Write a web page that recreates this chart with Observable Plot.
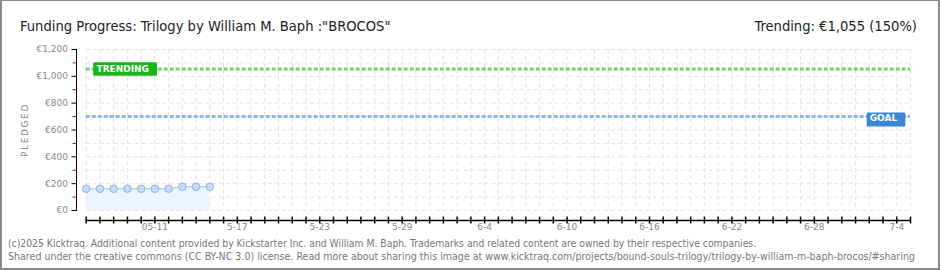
<!DOCTYPE html>
<html>
<head>
<meta charset="utf-8">
<script src="https://cdn.jsdelivr.net/npm/d3@7"></script>
<script src="https://cdn.jsdelivr.net/npm/@observablehq/plot@0.6"></script>
<style>
  body { margin: 0; background: #fff; }
  #wrap { position: relative; width: 940px; height: 270px; overflow: hidden; background: #fff; }
  #frameBorder { position: absolute; left: 0; top: 0; width: 940px; height: 270px; box-sizing: border-box;
    border-style: solid; border-color: #8a8a8a; border-width: 1px 2px 2px 2px; pointer-events: none; }
  .narrow { font-family: "Liberation Sans Narrow", "DejaVu Sans Condensed", "Roboto", sans-serif; white-space: nowrap; position: absolute; }
  #title { left: 20px; top: 18px; font-size: 14.6px; line-height: 15px; color: #222; }
  #trendTitle { right: 23px; top: 18px; font-size: 14.6px; line-height: 15px; color: #222; }
  #foot1 { left: 8px; top: 237px; font-size: 10.3px; line-height: 12px; color: #777; }
  #foot2 { left: 8px; top: 250px; font-size: 10.5px; line-height: 12px; color: #777; letter-spacing: 0.03px; }
  #ylabel { position: absolute; left: 25px; top: 130px; transform: translate(-50%, -50%) rotate(-90deg);
    font-family: "DejaVu Sans", sans-serif; font-size: 9px; letter-spacing: 1.6px; color: #888; white-space: nowrap; }
  #chart { position: absolute; left: 0; top: 0; }
</style>
</head>
<body>
<div id="wrap">
  <div id="chart"></div>
  <div id="title" class="narrow">Funding Progress: Trilogy by William M. Baph :"BROCOS"</div>
  <div id="trendTitle" class="narrow">Trending: €1,055 (150%)</div>
  <div id="ylabel">PLEDGED</div>
  <div id="foot1" class="narrow">(c)2025 Kicktraq. Additional content provided by Kickstarter Inc. and William M. Baph. Trademarks and related content are owned by their respective companies.</div>
  <div id="foot2" class="narrow">Shared under the creative commons (CC BY-NC 3.0) license. Read more about sharing this image at www.kicktraq.com/projects/bound-souls-trilogy/trilogy-by-william-m-baph-brocos/#sharing</div>
  <div id="frameBorder"></div>
</div>
<script>
// ---- data ----
const dates = ["2025-05-06","2025-05-07","2025-05-08","2025-05-09","2025-05-10","2025-05-11","2025-05-12","2025-05-13","2025-05-14","2025-05-15"];
const pledged = [162, 162, 162, 162, 162, 162, 162, 177, 177, 177];
const goal = 700;
const trending = 1055;
const startDate = "2025-05-06";
const endDate = "2025-07-05";
const yTicks = [0, 200, 400, 600, 800, 1000, 1200];
const yMinorTicks = [100, 300, 500, 700, 900, 1100];
const xLabelDates = ["2025-05-11","2025-05-17","2025-05-23","2025-05-29","2025-06-04","2025-06-10","2025-06-16","2025-06-22","2025-06-28","2025-07-04"];
const xLabels = ["05-11","5-17","5-23","5-29","6-4","6-10","6-16","6-22","6-28","7-4"];

// ---- build ----
const parse = d3.utcParse("%Y-%m-%d");
const data = dates.map((d, i) => ({date: parse(d), value: pledged[i]}));
const d0 = parse(startDate), d1 = parse(endDate);
const dayTicks = d3.utcDay.range(d0, d3.utcDay.offset(d1, 1));
const labelTimes = xLabelDates.map(parse);
const labelMap = new Map(labelTimes.map((t, i) => [+t, xLabels[i]]));
const gridYTicks = [...yTicks, ...yMinorTicks];
const inset = 9.7;
const gridStyle = {stroke: "#e3e3e3", strokeOpacity: 1, strokeDasharray: "4,3"};

const chart = Plot.plot({
  width: 940, height: 270,
  marginTop: 49, marginBottom: 60, marginLeft: 76, marginRight: 30,
  x: {type: "utc", domain: [d0, d1], insetLeft: inset, label: null},
  y: {domain: [0, 1200], label: null},
  style: {fontFamily: "DejaVu Sans, sans-serif", fontSize: "9px", background: "transparent", color: "#888"},
  marks: [
    Plot.gridX(dayTicks, gridStyle),
    Plot.gridY(gridYTicks, {...gridStyle, insetLeft: inset}),
    Plot.areaY(data, {x: "date", y: "value", fill: "#edf3fc"}),
    Plot.lineY(data, {x: "date", y: "value", stroke: "#a9c7ea", strokeWidth: 1}),
    Plot.ruleY([trending], {stroke: "#72d272", strokeWidth: 3, strokeDasharray: "4,2", insetLeft: inset}),
    Plot.ruleY([goal], {stroke: "#90b6e2", strokeWidth: 3, strokeDasharray: "4,2", insetLeft: inset}),
    Plot.dot(data, {x: "date", y: "value", r: 3.8, fill: "#c3dbf6", stroke: "#8fb3de", strokeWidth: 1}),
    Plot.frame({anchor: "left", stroke: "#000"}),
    Plot.axisY({ticks: yMinorTicks, tickSize: 3.5, stroke: "#e00", tickFormat: () => "", label: null}),
    Plot.axisY({ticks: yTicks, tickSize: 4.5, tickPadding: 4, stroke: "#000", fill: "#888", label: null,
      tickFormat: d => "€" + d3.format(",")(d)}),
    Plot.ruleY([0], {x1: () => d0, x2: () => d1, dy: 10, stroke: "#000", strokeWidth: 1.5}),
    Plot.axisX({ticks: dayTicks, tickSize: 7, dy: 6.5, stroke: "#000", strokeWidth: 1.5, tickFormat: () => "", label: null}),
    Plot.axisX({ticks: labelTimes, tickSize: 0, tickPadding: 13, fill: "#888", label: null,
      tickFormat: d => labelMap.get(+d)}),
    Plot.text([trending], {x: () => d0, y: d => d, text: () => "TRENDING", textAnchor: "start", dx: 10.3,
      fill: "#fff", fontWeight: "bold", fontSize: 9}),
    Plot.text([goal], {x: () => d1, y: d => d, text: () => "GOAL", textAnchor: "end", dx: -13.3, dy: 1.5,
      fill: "#fff", fontWeight: "bold", fontSize: 9})
  ]
});
document.getElementById("chart").appendChild(chart);

function addBox(label, color, padL, padR, h, offY) {
  d3.select(chart).selectAll("text").filter(function() { return this.textContent === label; }).each(function() {
    const b = this.getBBox();
    d3.select(this.parentNode).insert("rect", () => this)
      .attr("transform", this.getAttribute("transform"))
      .attr("x", b.x - padL).attr("y", -h / 2 + offY)
      .attr("width", b.width + padL + padR).attr("height", h)
      .attr("rx", 1.5).attr("fill", color);
  });
}
addBox("TRENDING", "#17b517", 3.3, 8, 13.4, 0);
addBox("GOAL", "#3a87d8", 3, 8, 14, 1.5);
</script>
</body>
</html>
